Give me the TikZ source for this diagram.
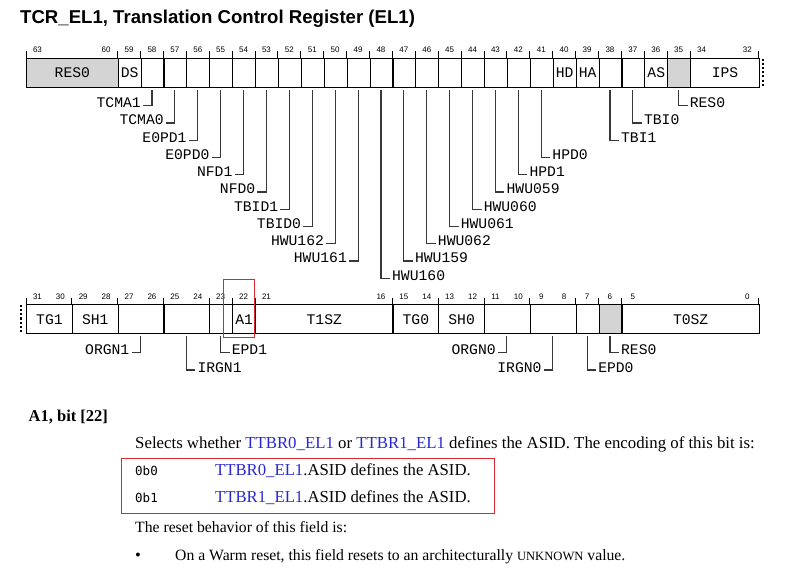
\documentclass[tikz,border=0pt]{standalone}
\usepackage{fontspec}
\setmainfont{Liberation Serif}
\newfontfamily\regfont{Liberation Mono}
\newfontfamily\bitfont{Liberation Sans}
\newfontfamily\headfont{Liberation Sans}
\newfontfamily\codefont{DejaVu Sans Mono}
\definecolor{linkblue}{RGB}{40,40,210}
\definecolor{boxred}{RGB}{222,38,48}
\definecolor{resgray}{RGB}{212,212,212}
\tikzset{
  regcell/.style={draw, line width=1.1pt, inner sep=0pt, minimum height=29pt, anchor=north west, font=\regfont\fontsize{14.7}{16}\selectfont},
  bitnum/.style={inner sep=0pt, anchor=base, font=\bitfont\fontsize{8}{9}\selectfont},
  bittick/.style={line width=1pt},
  leader/.style={draw=black!78, line width=1.1pt},
  leadlabel/.style={inner xsep=2pt, inner ysep=0pt, font=\regfont\fontsize{14.7}{16}\selectfont},
  dotline/.style={line width=2.2pt, dash pattern=on 2.1pt off 2.1pt},
  redframe/.style={draw=boxred, line width=1.1pt},
  body/.style={inner sep=0pt, anchor=base west, font=\fontsize{16.5}{20}\selectfont},
  code/.style={inner sep=0pt, anchor=base west, font=\codefont\fontsize{12.5}{15}\selectfont},
}
\begin{document}
\begin{tikzpicture}[x=1pt,y=-1pt]
\useasboundingbox (0,0) rectangle (785,573);
\fill[white] (0,0) rectangle (785,573);

% title
\node[inner sep=0pt, anchor=base west, font=\headfont\bfseries\fontsize{18.6}{22}\selectfont] (title) at (20,23.3) {TCR\_EL1, Translation Control Register (EL1)};

% ---------- top register (63..32)
\foreach \hi/\lo/\txt/\fl in {63/60/RES0/resgray,59/59/DS/white,58/58//white,57/57//white,56/56//white,55/55//white,54/54//white,53/53//white,52/52//white,51/51//white,50/50//white,49/49//white,48/48//white,47/47//white,46/46//white,45/45//white,44/44//white,43/43//white,42/42//white,41/41//white,40/40/HD/white,39/39/HA/white,38/38//white,37/37//white,36/36/AS/white,35/35//resgray,34/32/IPS/white}{
  \pgfmathsetmacro\xl{26+(63-\hi)*22.9}
  \pgfmathsetmacro\cellw{(\hi-\lo+1)*22.9}
  \node[regcell, fill=\fl, minimum width=\cellw pt] (tc\hi) at (\xl,58) {\txt};
  \draw[bittick] (\xl,51.3) -- (\xl,58);
  \node[bitnum] (tn\hi) at ({\xl+11.45},52.9) {\hi};
  \ifnum\hi=\lo\else
    \node[bitnum] (tn\lo) at ({\xl+\cellw-11.45},52.9) {\lo};
  \fi
}
\draw[bittick] (758.8,51.3) -- (758.8,58);
\coordinate (dtA) at (763.3,58.5);
\coordinate (dtB) at (763.3,87);
\draw[dotline] (dtA) -- (dtB);

% top leaders
\foreach \b/\lbl/\lev/\side in {58/TCMA1/1/L,57/TCMA0/2/L,56/E0PD1/3/L,55/E0PD0/4/L,54/NFD1/5/L,53/NFD0/6/L,52/TBID1/7/L,51/TBID0/8/L,50/HWU162/9/L,49/HWU161/10/L,48/HWU160/11/R,47/HWU159/10/R,46/HWU062/9/R,45/HWU061/8/R,44/HWU060/7/R,43/HWU059/6/R,42/HPD1/5/R,41/HPD0/4/R,38/TBI1/3/R,37/TBI0/2/R,35/RES0/1/R}{
  \pgfmathsetmacro\xc{26+(63-\b)*22.9+11.45}
  \pgfmathsetmacro\sy{105.7+(\lev-1)*17.25}
  \coordinate (tp\b) at (\xc,90);
  \if\side L
    \node[leadlabel, anchor=base east] (tl\b) at ({\xc-9},{\sy+2}) {\lbl};
    \draw[leader] (tp\b) |- ([yshift=2pt]tl\b.base east);
  \else
    \node[leadlabel, anchor=base west] (tl\b) at ({\xc+9},{\sy+2}) {\lbl};
    \draw[leader] (tp\b) |- ([yshift=2pt]tl\b.base west);
  \fi
}

% ---------- bottom register (31..0)
\foreach \hi/\lo/\txt/\fl in {31/30/TG1/white,29/28/SH1/white,27/26//white,25/24//white,23/23//white,22/22/A1/white,21/16/T1SZ/white,15/14/TG0/white,13/12/SH0/white,11/10//white,9/8//white,7/7//white,6/6//resgray,5/0/T0SZ/white}{
  \pgfmathsetmacro\xl{26+(31-\hi)*22.9}
  \pgfmathsetmacro\cellw{(\hi-\lo+1)*22.9}
  \node[regcell, fill=\fl, minimum width=\cellw pt] (bc\hi) at (\xl,304.3) {\txt};
  \draw[bittick] (\xl,297.6) -- (\xl,304.3);
  \node[bitnum] (bn\hi) at ({\xl+11.45},299.2) {\hi};
  \ifnum\hi=\lo\else
    \node[bitnum] (bn\lo) at ({\xl+\cellw-11.45},299.2) {\lo};
  \fi
}
\draw[bittick] (758.8,297.6) -- (758.8,304.3);
\coordinate (dbA) at (21,304.8);
\coordinate (dbB) at (21,333.3);
\draw[dotline] (dbA) -- (dbB);

% bottom leaders
\foreach \hi/\lo/\lbl/\sy/\side in {27/26/ORGN1/352.7/L,25/24/IRGN1/370/R,23/23/EPD1/352.7/R,11/10/ORGN0/352.7/L,9/8/IRGN0/370/L,7/7/EPD0/370/R,6/6/RES0/352.7/R}{
  \pgfmathsetmacro\xc{26+(31-\hi)*22.9+(\hi-\lo+1)*11.45}
  \coordinate (bp\hi) at (\xc,336.3);
  \if\side L
    \node[leadlabel, anchor=base east] (bl\hi) at ({\xc-9},{\sy+2}) {\lbl};
    \draw[leader] (bp\hi) |- ([yshift=2pt]bl\hi.base east);
  \else
    \node[leadlabel, anchor=base west] (bl\hi) at ({\xc+9},{\sy+2}) {\lbl};
    \draw[leader] (bp\hi) |- ([yshift=2pt]bl\hi.base west);
  \fi
}

% highlight of A1
\draw[redframe] (223.3,279.5) rectangle (254.5,337.3);

% ---------- description text
\node[body, font=\bfseries\fontsize{16.5}{20}\selectfont] (hdr) at (28.5,421.5) {A1, bit [22]};
\node[body, font=\fontsize{16.8}{20}\selectfont] (sel) at (135,448.5) {Selects whether \textcolor{linkblue}{TTBR0\_EL1} or \textcolor{linkblue}{TTBR1\_EL1} defines the ASID. The encoding of this bit is:};
\node[code] (c0) at (135,475.5) {0b0};
\node[body, font=\fontsize{16.7}{20}\selectfont] (d0) at (215,475) {\textcolor{linkblue}{TTBR0\_EL1}.ASID defines the ASID.};
\node[code] (c1) at (135,502.8) {0b1};
\node[body, font=\fontsize{16.7}{20}\selectfont] (d1) at (215,502.3) {\textcolor{linkblue}{TTBR1\_EL1}.ASID defines the ASID.};
\draw[redframe, line width=1pt] (121,458.3) rectangle (494,513.3);
\node[body, font=\fontsize{15.7}{19}\selectfont] (rst) at (135,532.3) {The reset behavior of this field is:};
\node[body] (bul) at (135,560) {\textbullet};
\node[body, font=\fontsize{15.7}{19}\selectfont] (warm) at (175,560) {On a Warm reset, this field resets to an architecturally {\fontsize{12.6}{15}\selectfont UNKNOWN} value.};
\end{tikzpicture}
\end{document}
